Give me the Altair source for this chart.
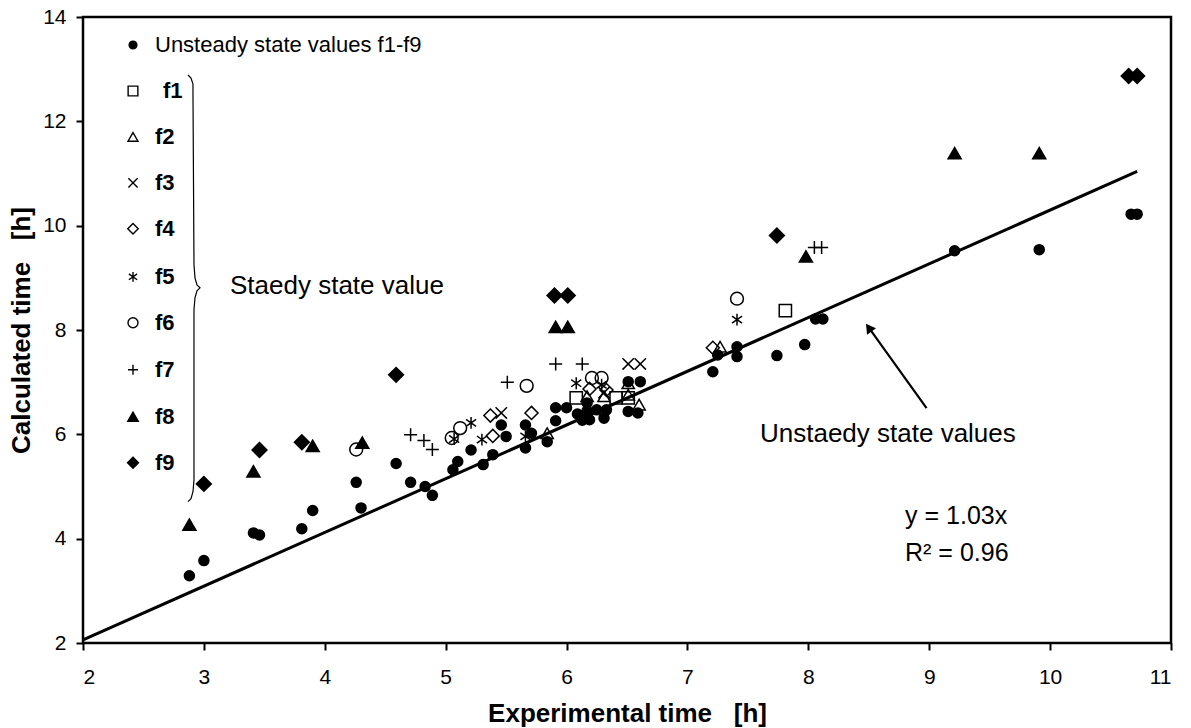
import altair as alt
import pandas as pd

# ---------------- data ----------------
unsteady_x = [2.88, 3.00, 3.41, 3.46, 3.81, 3.90, 4.26, 4.30, 4.59, 4.71, 4.83, 4.89,
              5.06, 5.10, 5.21, 5.31, 5.39, 5.46, 5.50, 5.66, 5.66, 5.71, 5.84, 5.91,
              5.91, 6.00, 6.09, 6.13, 6.17, 6.17, 6.19, 6.25, 6.31, 6.33, 6.51, 6.51,
              6.61, 6.59, 7.21, 7.25, 7.41, 7.41, 7.74, 7.97, 8.06, 8.12, 9.21, 9.91,
              10.67, 10.72]
unsteady_y = [3.29, 3.58, 4.11, 4.07, 4.19, 4.54, 5.08, 4.59, 5.44, 5.08, 5.00, 4.83,
              5.32, 5.48, 5.70, 5.42, 5.61, 6.18, 5.96, 5.74, 6.18, 6.02, 5.86, 6.51,
              6.26, 6.51, 6.39, 6.27, 6.60, 6.45, 6.28, 6.47, 6.31, 6.47, 6.44, 7.01,
              7.01, 6.41, 7.20, 7.52, 7.68, 7.49, 7.51, 7.72, 8.21, 8.21, 9.52, 9.54,
              10.22, 10.22]

f1_x = [6.08, 6.41, 6.51, 7.81]
f1_y = [6.70, 6.70, 6.70, 8.37]
f2_x = [5.84, 6.17, 6.31, 6.51, 6.51, 6.60, 7.27]
f2_y = [6.02, 6.73, 6.73, 6.98, 6.76, 6.57, 7.68]
f3_x = [5.46, 6.31, 6.51, 6.61]
f3_y = [6.41, 6.80, 7.35, 7.35]
f4_x = [5.37, 5.39, 5.71, 6.19, 6.33, 7.21]
f4_y = [6.36, 5.97, 6.41, 6.87, 6.85, 7.66]
f5_x = [5.07, 5.21, 5.30, 5.66, 6.08, 6.29, 7.41]
f5_y = [5.91, 6.22, 5.90, 5.96, 6.98, 6.95, 8.20]
f6_x = [4.26, 5.05, 5.12, 5.67, 6.21, 6.29, 7.41]
f6_y = [5.71, 5.93, 6.12, 6.93, 7.08, 7.08, 8.60]
f7_x = [4.71, 4.82, 4.89, 5.51, 5.91, 6.13, 8.05, 8.11]
f7_y = [5.99, 5.88, 5.71, 7.00, 7.35, 7.35, 9.58, 9.58]
f8_x = [2.88, 3.41, 3.90, 4.31, 5.91, 6.01, 7.98, 9.21, 9.91]
f8_y = [4.27, 5.29, 5.78, 5.84, 8.06, 8.06, 9.41, 11.39, 11.39]
f9_x = [3.00, 3.46, 3.81, 4.59, 5.90, 6.01, 7.74, 10.65, 10.72]
f9_y = [5.05, 5.70, 5.85, 7.14, 8.66, 8.66, 9.81, 12.87, 12.87]

series_names = ["Unsteady state values f1-f9", "f1", "f2", "f3", "f4",
                "f5", "f6", "f7", "f8", "f9"]

# trend line y = 1.03x (end points)
fit_x = [2.0, 10.72]
fit_y = [2.06, 11.04]

x_ticks = [2, 3, 4, 5, 6, 7, 8, 9, 10, 11]
y_ticks = [2, 4, 6, 8, 10, 12, 14]

# ---------------- styles ----------------
FONT = "Liberation Sans"
CROSS = "M-1,-1L1,1M-1,1L1,-1"
STAR = "M0,-1L0,1M-0.85,-0.6L0.85,0.6M-0.85,0.6L0.85,-0.6"
PLUS = "M-1,0L1,0M0,-1L0,1"
shape_range = ["circle", "square", "triangle-up", CROSS, "diamond", STAR,
               "circle", PLUS, "triangle-up", "diamond"]
fill_range = ["black", "transparent", "transparent", "transparent", "transparent",
              "transparent", "transparent", "transparent", "black", "black"]
plot_sizes = [100, 150, 150, 130, 170, 140, 165, 170, 170, 220]
legend_sizes = [60, 95, 100, 85, 110, 95, 100, 100, 110, 120]

# ---------------- tables ----------------
xs = [unsteady_x, f1_x, f2_x, f3_x, f4_x, f5_x, f6_x, f7_x, f8_x, f9_x]
ys = [unsteady_y, f1_y, f2_y, f3_y, f4_y, f5_y, f6_y, f7_y, f8_y, f9_y]
rows = []
for name, sx, sy, sz in zip(series_names, xs, ys, plot_sizes):
    for a, b in zip(sx, sy):
        rows.append({"x": a, "y": b, "series": name, "sz": sz})
pts = pd.DataFrame(rows)

# legend drawn inside the plot (data coordinates of the reference legend)
leg_y = [13.464, 12.582, 11.701, 10.820, 9.939, 9.020, 8.138, 7.238, 6.337, 5.456]
leg_sym_x = 2.4136
leg_lab_x = [2.5955, 2.6617, 2.5955, 2.5955, 2.5955, 2.5955, 2.5955, 2.5955, 2.5955, 2.5955]
leg_df = pd.DataFrame({
    "series": series_names,
    "x": [leg_sym_x] * len(series_names),
    "lx": leg_lab_x,
    "y": leg_y,
    "sz": legend_sizes,
})

shape_scale = alt.Scale(domain=series_names, range=shape_range)
fill_scale = alt.Scale(domain=series_names, range=fill_range)
xscale = alt.Scale(domain=[2, 11], nice=False, zero=False)
yscale = alt.Scale(domain=[2, 14], nice=False, zero=False)

NB = "\u00a0"
xaxis = alt.Axis(values=x_ticks, title="Experimental time" + NB * 3 + "[h]",
                 grid=False, domain=False, ticks=True, tickSize=7, tickWidth=2,
                 tickColor="black", labelPadding=16, titlePadding=13, format="d")
yaxis = alt.Axis(values=y_ticks, title="Calculated time" + NB * 3 + "[h]",
                 grid=False, domain=False, ticks=True, tickSize=7, tickWidth=2,
                 tickColor="black", labelPadding=10, titlePadding=8, format="d")

points = alt.Chart(pts).mark_point(opacity=1, strokeWidth=1.5, stroke="black").encode(
    x=alt.X("x:Q", scale=xscale, axis=xaxis),
    y=alt.Y("y:Q", scale=yscale, axis=yaxis),
    shape=alt.Shape("series:N", scale=shape_scale, legend=None),
    fill=alt.Fill("series:N", scale=fill_scale, legend=None),
    size=alt.Size("sz:Q", scale=None, legend=None),
)

leg_symbols = alt.Chart(leg_df).mark_point(opacity=1, strokeWidth=1.4, stroke="black").encode(
    x="x:Q", y="y:Q",
    shape=alt.Shape("series:N", scale=shape_scale, legend=None),
    fill=alt.Fill("series:N", scale=fill_scale, legend=None),
    size=alt.Size("sz:Q", scale=None, legend=None),
)
leg_first = alt.Chart(leg_df.iloc[:1]).mark_text(
    align="left", baseline="middle", font=FONT, fontSize=22, color="black").encode(
    x="lx:Q", y="y:Q", text="series:N")
leg_rest = alt.Chart(leg_df.iloc[1:]).mark_text(
    align="left", baseline="middle", font=FONT, fontSize=22, fontWeight="bold",
    color="black").encode(x="lx:Q", y="y:Q", text="series:N")

fit = alt.Chart(pd.DataFrame({"x": fit_x, "y": fit_y})).mark_line(
    color="black", strokeWidth=3).encode(x="x:Q", y="y:Q")

# curly brace next to the legend (data coordinates)
brace_x = [2.8685, 2.8933, 2.9098, 2.9098, 2.9181, 2.9264, 2.9429, 2.9677,
           2.9429, 2.9264, 2.9181, 2.9181, 2.9098, 2.8933, 2.8685]
brace_y = [12.889, 12.831, 12.716, 12.506, 9.249, 9.0, 8.866, 8.808,
           8.751, 8.617, 8.387, 5.130, 4.900, 4.766, 4.709]
brace = alt.Chart(pd.DataFrame({"x": brace_x, "y": brace_y,
                                "o": list(range(len(brace_x)))})).mark_line(
    color="black", strokeWidth=1.2, interpolate="linear").encode(
    x="x:Q", y="y:Q", order="o:Q")

# arrow
arrow_line = alt.Chart(pd.DataFrame({"x": [8.978, 8.50], "y": [6.504, 8.046]})).mark_line(
    color="black", strokeWidth=2.2).encode(x="x:Q", y="y:Q")
arrow_head = alt.Chart(pd.DataFrame({"x": [8.4996], "y": [8.046]})).mark_point(
    shape="triangle-up", filled=True, color="black", opacity=1, size=120,
    angle=324).encode(x="x:Q", y="y:Q")

# texts
texts_df = pd.DataFrame({
    "x": [3.216, 7.60, 8.80, 8.80],
    "y": [8.69, 5.858, 4.287, 3.58],
    "t": ["Staedy state value", "Unstaedy state values", "y = 1.03x", "R\u00b2 = 0.96"],
    "s": [26, 26, 25, 25],
})
texts = alt.Chart(texts_df).mark_text(
    align="left", baseline="alphabetic", font=FONT, color="black").encode(
    x="x:Q", y="y:Q", text="t:N",
    size=alt.Size("s:Q", scale=None, legend=None))

chart = alt.layer(points, fit, brace, arrow_line, arrow_head, texts,
                  leg_symbols, leg_first, leg_rest).properties(
    width=1088, height=626,
    background="white",
    autosize=alt.AutoSizeParams(type="none"),
    padding={"left": 83, "top": 17, "right": 20, "bottom": 85},
).configure_view(stroke="black", strokeWidth=2.5).configure_axis(
    labelFont=FONT, labelFontSize=21, labelColor="black",
    titleFont=FONT, titleFontSize=26, titleFontWeight="bold", titleColor="black",
)

chart.save("out.html", embed_options={"renderer": "svg", "actions": False})
